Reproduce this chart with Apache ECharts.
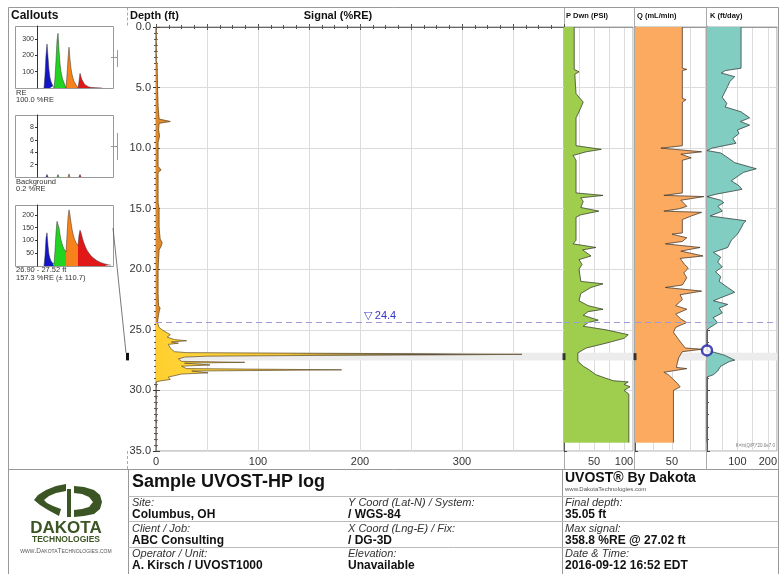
<!DOCTYPE html>
<html>
<head>
<meta charset="utf-8">
<title>Sample UVOST-HP log</title>
<script src="https://cdn.jsdelivr.net/npm/echarts@6/dist/echarts.min.js"></script>
<style>
  html, body { margin: 0; padding: 0; background: #fff; }
  #log { width: 780px; height: 574px; }
</style>
</head>
<body>
<div id="log"></div>
<script>
const FONT = "'Liberation Sans', Arial, Helvetica, sans-serif";

// ---- UVOST signal (%RE) by depth (ft) ----
const sigDepth = [0, 2.8, 3.0, 5.0, 6.5, 7.6, 7.8, 7.95, 8.5, 9.0, 9.5, 11.5, 11.8, 12.0, 14.5,
  15.0, 16.5, 17.5, 17.8, 18.1, 18.4, 20.0, 22.0, 23.0, 23.2, 23.5, 24.0, 24.4, 24.8, 25.0,
  25.2, 25.4, 25.6, 25.8, 25.9, 26.0, 26.1, 26.2, 26.5, 26.8, 26.88, 26.92, 26.96, 26.99, 27.02,
  27.05, 27.08, 27.12, 27.17, 27.25, 27.4, 27.6, 27.68, 27.75, 27.9, 28.0, 28.2, 28.3, 28.4, 28.55,
  28.65, 28.9, 29.1, 29.2, 29.3, 35.0];
const sigValue = [0, 0, 1, 1.5, 2, 3, 14, 3, 2.5, 3.5, 2, 2, 5, 2, 2,
  3, 3, 4, 6, 5, 3, 2, 2, 2.5, 4, 3, 2, 1.5, 3, 6,
  10, 14, 11, 18, 30, 15, 22, 12, 14, 18, 30, 120, 230, 300, 358.8,
  310, 240, 140, 50, 28, 22, 25, 87, 28, 53, 25, 30, 182, 35, 51,
  25, 12, 14, 5, 0, 0];
const sigZoneTop = 24.4;   // yellow (LNAPL) response starts here
const sigTicks = [0, 100, 200, 300];

// ---- HPT downhole pressure (PSI) ----
const pDepth = [0, 3.5, 3.7, 3.9, 5.5, 6.2, 7.0, 7.5, 9.8, 10.1, 10.3, 10.6, 11.0, 13.7, 13.9,
  14.1, 14.4, 14.9, 15.2, 15.5, 15.7, 17.6, 17.9, 18.2, 18.4, 18.9, 19.2, 19.6, 20.0, 21.0,
  21.2, 21.5, 22.0, 22.6, 23.0, 23.3, 23.5, 23.8, 24.2, 24.4, 24.7, 25.0, 25.4, 25.7, 26.1,
  26.5, 26.9, 27.6, 28.0, 28.3, 28.7, 29.0, 29.2, 29.3, 29.5, 29.7, 30.0, 30.3, 34.3];
const pValue = [17, 17, 25, 18, 20, 32, 25, 20, 20, 62, 37, 15, 20, 20, 65,
  28, 32, 28, 58, 28, 20, 20, 15, 53, 31, 45, 25, 30, 25, 28,
  65, 45, 28, 25, 40, 65, 40, 32, 57, 40, 32, 70, 107, 100, 70,
  37, 23, 23, 32, 42, 53, 70, 82, 107, 100, 110, 100, 108, 108];
const pTicks = [50, 100];

// ---- HPT flow (mL/min) ----
const qDepth = [0, 3.4, 3.5, 3.6, 5.9, 6.0, 6.2, 9.8, 10.0, 10.3, 10.5, 10.8, 11.0, 13.7, 13.9,
  14.0, 14.3, 14.8, 15.0, 15.2, 15.3, 15.6, 15.9, 17.0, 17.1, 17.4, 17.7, 17.9, 18.2, 18.5,
  18.9, 19.1, 19.6, 19.9, 20.3, 20.7, 21.3, 21.5, 21.8, 22.1, 22.5, 23.0, 23.3, 23.7, 24.1,
  24.4, 24.6, 24.8, 25.2, 25.8, 26.2, 26.5, 26.6, 26.8, 27.3, 27.8, 28.1, 28.2, 28.5, 28.7,
  29.1, 29.4, 29.7, 30.0, 30.3, 34.3];
const qValue = [64, 64, 70, 64, 64, 69, 64, 64, 35, 90, 62, 76, 64, 64, 39,
  93, 62, 70, 60, 39, 90, 76, 64, 64, 50, 70, 64, 41, 88, 62,
  92, 61, 67, 72, 66, 70, 64, 41, 90, 61, 64, 55, 70, 55, 62,
  70, 62, 55, 52, 59, 64, 68, 90, 64, 59, 57, 56, 70, 39, 45,
  52, 57, 61, 52, 52, 52];
const qTicks = [50];

// ---- Estimated hydraulic conductivity (ft/day) ----
const kDepth = [0, 3.4, 3.6, 3.8, 4.1, 4.5, 4.9, 5.3, 5.8, 6.3, 6.6, 7.0, 7.5, 7.8, 8.1,
  8.5, 8.8, 9.2, 9.6, 10.0, 10.2, 10.4, 10.8, 11.2, 11.7, 12.0, 12.3, 12.7, 13.1, 13.4,
  13.8, 14.0, 14.3, 14.5, 14.8, 15.2, 15.6, 16.0, 16.2, 16.6, 17.1, 17.6, 18.2, 18.6, 19.0,
  19.4, 19.8, 20.2, 20.6, 21.0, 21.5, 21.9, 22.3, 22.6, 22.9, 23.2, 23.6, 24.0, 24.4, 24.8,
  25.0, 26.7, 26.9, 27.1, 27.5, 27.6, 28.0, 28.4, 28.7, 28.9, 34.3];
const kValue = [112, 112, 60, 47, 91, 75, 68, 60, 50, 65, 60, 112, 140, 110, 140,
  100, 105, 85, 95, 16, 0, 45, 69, 91, 162, 120, 102, 80, 105, 115,
  30, 0, 45, 55, 36, 50, 10, 128, 120, 112, 100, 80, 68, 21, 45,
  35, 50, 28, 45, 40, 68, 91, 50, 21, 68, 40, 50, 20, 35, 10,
  0, 0, 30, 58, 91, 75, 45, 35, 21, 0, 0];
const kTicks = [100, 200];
const kMarkerDepth = 26.7;

// ---- log annotations ----
const waterLevel = 24.4;
const calloutTop = 26.90;
const calloutBottom = 27.52;

// ---- callout waveforms: [time bin, amplitude] per channel ----
const reBlue = [[7,0],[8,80],[9,200],[10,270],[11,190],[12,110],[13,65],[14,40],[15,25],[16,12],[17,0]];
const reGreen = [[17,0],[18,60],[19,170],[20,290],[21,335],[22,230],[23,150],[24,100],[25,70],[26,48],[27,32],[28,20],[29,0]];
const reOrange = [[29,0],[30,80],[31,180],[32,250],[33,175],[34,120],[35,85],[36,60],[37,42],[38,30],[39,20],[40,12],[41,0]];
const reRed = [[41,0],[42,40],[43,90],[44,68],[45,50],[46,38],[47,28],[48,20],[49,15],[50,10],[52,6],[55,3],[60,1],[65,0]];

const bgBlue = [[9,0],[10,0.4],[11,0]];
const bgGreen = [[20,0],[21,0.4],[22,0]];
const bgOrange = [[31,0],[32,0.5],[33,0]];
const bgRed = [[42,0],[43,0.4],[44,0]];

const c3Blue = [[7,0],[8,40],[9,110],[10,130],[11,80],[12,45],[13,30],[14,20],[15,15],[16,10],[17,8]];
const c3Green = [[17,8],[18,60],[19,130],[20,175],[21,180],[22,150],[23,122],[24,102],[25,88],[26,76],[27,67],[28,60],[29,55]];
const c3Orange = [[29,55],[30,120],[31,190],[32,220],[33,200],[34,170],[35,145],[36,126],[37,112],[38,101],[39,92],[40,85],[41,80]];
const c3Red = [[41,80],[42,120],[43,140],[44,130],[45,115],[46,101],[47,89],[48,79],[49,70],[50,62],[52,50],[54,40],[56,32],[58,26],[60,21],[62,17],[64,13],[66,10],[68,8],[70,6],[72,4],[74,3]];

const CH_COLORS = ['#1414c8', '#22d422', '#f7821b', '#e01818'];

// axis indices (x and y share the same index per panel)
const AX = { main: 0, p: 2, q: 3, k: 4, c1: 5, c2: 6, c3: 7 };

// ----------------------------------------------------------------------
const chart = echarts.init(document.getElementById('log'), null, { renderer: 'canvas', width: 780, height: 574 });

const profile = (depths, values) => depths.map((d, i) => [values[i], d]);

function polygonPoints(api, depths, values, from, to) {
  const pts = [api.coord([0, depths[from]])];
  for (let i = from; i <= to; i++) pts.push(api.coord([values[i], depths[i]]));
  pts.push(api.coord([0, depths[to]]));
  return pts;
}

function fillSeries(a, depths, values, color) {
  return {
    type: 'custom', xAxisIndex: a, yAxisIndex: a, silent: true, clip: true, z: 3,
    data: profile(depths, values),
    renderItem: (params, api) => {
      if (params.dataIndex !== 0) return null;
      return { type: 'polygon', shape: { points: polygonPoints(api, depths, values, 0, depths.length - 1) },
        style: { fill: color, stroke: color, lineWidth: 0.4 } };
    }
  };
}

function outlineSeries(a, depths, values, color, withLabel) {
  return {
    type: 'line', xAxisIndex: a, yAxisIndex: a, silent: true, z: 4,
    showSymbol: false, symbol: 'none', clip: true,
    lineStyle: { color: color, width: 0.7 },
    data: profile(depths, values),
    markLine: {
      silent: true, symbol: 'none', animation: false,
      lineStyle: { color: '#9c9cd8', type: [6, 4], width: 1.2 },
      label: withLabel ? {
        show: true, position: 'insideMiddleTop', distance: 1, padding: [0, 0, 0, 40],
        formatter: '\u25BD ' + waterLevel.toFixed(1),
        color: '#3535c8', fontSize: 11, fontFamily: FONT
      } : { show: false },
      data: [{ yAxis: waterLevel }]
    }
  };
}

function bandSeries(a) {
  return {
    type: 'custom', xAxisIndex: a, yAxisIndex: a, silent: true, z: 1,
    data: [[calloutTop, calloutBottom]],
    renderItem: (params, api) => {
      const cs = params.coordSys;
      const y1 = api.coord([0, api.value(0)])[1];
      const y2 = api.coord([0, api.value(1)])[1];
      return { type: 'rect', shape: { x: cs.x, y: y1, width: cs.width, height: y2 - y1 },
        style: { fill: '#ececec' } };
    }
  };
}

function waveSeries(a, data, color) {
  return {
    type: 'line', xAxisIndex: a, yAxisIndex: a, silent: true, z: 3,
    showSymbol: false, symbol: 'none', data: data,
    lineStyle: { color: '#333', width: 0.5 },
    areaStyle: { color: color, opacity: 1 }
  };
}

const depthAxis = (grid, extra) => Object.assign({
  gridIndex: grid, type: 'value', inverse: true, min: 0, max: 35, interval: 5,
  axisLine: { show: true, lineStyle: { color: '#555', width: 1 } },
  axisTick: { show: true, inside: true, length: 3, lineStyle: { color: '#444' } },
  minorTick: { show: true, splitNumber: 5, length: 2, lineStyle: { color: '#555' } },
  axisLabel: { show: false },
  splitLine: { show: true, lineStyle: { color: '#dcdcdc' } }
}, extra || {});

const valueAxis = (grid, max, interval, ticks, extra) => Object.assign({
  gridIndex: grid, type: 'value', min: 0, max: max, interval: interval, position: 'bottom',
  axisLine: { show: true, lineStyle: { color: '#999' } },
  axisTick: { show: false },
  axisLabel: {
    show: true, fontSize: 11, color: '#333', fontFamily: FONT, margin: 5,
    showMaxLabel: false, formatter: v => ticks.includes(v) ? String(v) : ''
  },
  splitLine: { show: true, lineStyle: { color: '#dcdcdc' } }
}, extra || {});

const calloutYAxis = (grid, max, interval) => ({
  gridIndex: grid, type: 'value', min: 0, max: max, interval: interval,
  axisLine: { show: true, lineStyle: { color: '#333' } },
  axisTick: { show: true, length: 2, lineStyle: { color: '#333' } },
  axisLabel: { fontSize: 7, color: '#333', fontFamily: FONT, margin: 3, showMinLabel: false, showMaxLabel: false },
  splitLine: { show: false }
});
const calloutXAxis = grid => ({ gridIndex: grid, type: 'value', min: 0, max: 76, show: false });

// signal fill: weak orange response above the yellow zone, gradient-shaded spikes below
const splitIdx = sigDepth.indexOf(sigZoneTop);
const signalFill = {
  type: 'custom', xAxisIndex: AX.main, yAxisIndex: AX.main, silent: true, clip: true, z: 3,
  data: profile(sigDepth, sigValue),
  renderItem: (params, api) => {
    if (params.dataIndex !== 0) return null;
    const x0 = api.coord([0, 0])[0];
    const x1 = api.coord([400, 0])[0];
    const grad = {
      type: 'linear', x: x0, y: 0, x2: x1, y2: 0, global: true,
      colorStops: [
        { offset: 0, color: '#ffcf2e' },
        { offset: 0.10, color: '#ffd43a' },
        { offset: 0.32, color: '#f3c437' },
        { offset: 0.40, color: '#c8a640' },
        { offset: 0.55, color: '#8d7c48' },
        { offset: 0.68, color: '#4c4a46' },
        { offset: 0.78, color: '#8a8a8a' },
        { offset: 0.92, color: '#cfcfcf' }
      ]
    };
    return { type: 'group', children: [
      { type: 'polygon', shape: { points: polygonPoints(api, sigDepth, sigValue, 0, splitIdx) },
        style: { fill: '#e08a2e', stroke: '#e08a2e', lineWidth: 0.4 } },
      { type: 'polygon', shape: { points: polygonPoints(api, sigDepth, sigValue, splitIdx, sigDepth.length - 1) },
        style: { fill: grad } }
    ] };
  }
};

const calloutMid = (calloutTop + calloutBottom) / 2;
const barSeries = a => ({
  type: 'scatter', xAxisIndex: a, yAxisIndex: a, silent: true, z: 6, clip: false,
  symbol: 'rect', symbolSize: [3, 7], itemStyle: { color: '#111' },
  data: [[0, calloutMid]]
});

const option = {
  animation: false,
  backgroundColor: '#fff',
  textStyle: { fontFamily: FONT },
  grid: [
    { left: 156, top: 27, width: 408, height: 424, show: true, borderColor: '#999', borderWidth: 1 },
    { left: 564, top: 27, width: 69, height: 424, show: true, borderColor: '#aaa', borderWidth: 1 },
    { left: 635, top: 27, width: 71, height: 424, show: true, borderColor: '#aaa', borderWidth: 1 },
    { left: 707, top: 27, width: 71, height: 424, show: true, borderColor: '#aaa', borderWidth: 1 },
    { left: 37, top: 26, width: 76, height: 62 },
    { left: 37, top: 115, width: 76, height: 62 },
    { left: 37, top: 205, width: 76, height: 61 }
  ],
  xAxis: [
    valueAxis(0, 400, 50, sigTicks, {
      axisTick: { show: true, inside: true, length: 3, lineStyle: { color: '#555' } },
      minorTick: { show: true, splitNumber: 4, length: 2, lineStyle: { color: '#555' } }
    }),
    valueAxis(0, 400, 50, [], {
      position: 'top',
      axisLine: { show: true, lineStyle: { color: '#666' } },
      axisTick: { show: true, inside: true, length: 3, lineStyle: { color: '#555' } },
      minorTick: { show: true, splitNumber: 4, length: 2, lineStyle: { color: '#555' } },
      axisLabel: { show: false }, splitLine: { show: false }
    }),
    valueAxis(1, 115, 25, pTicks),
    valueAxis(2, 96, 25, qTicks),
    valueAxis(3, 230, 50, kTicks),
    calloutXAxis(4), calloutXAxis(5), calloutXAxis(6)
  ],
  yAxis: [
    depthAxis(0, {
      axisLine: { show: true, lineStyle: { color: '#333', width: 1 } },
      axisTick: { show: true, inside: false, length: 3, lineStyle: { color: '#333' } },
      minorTick: { show: true, splitNumber: 10, length: 2, lineStyle: { color: '#555' } },
      axisLabel: { show: true, formatter: v => v.toFixed(1), fontSize: 11, color: '#333', fontFamily: FONT, margin: 5 }
    }),
    depthAxis(0, {
      position: 'left', offset: 29,
      axisLine: { show: true, lineStyle: { color: '#aaa', type: 'dashed' } },
      axisTick: { show: true, inside: true, length: 4, lineStyle: { color: '#444' } },
      minorTick: { show: true, splitNumber: 10, length: 2, lineStyle: { color: '#777' } },
      splitLine: { show: false }
    }),
    depthAxis(1), depthAxis(2), depthAxis(3),
    calloutYAxis(4, 380, 100), calloutYAxis(5, 10, 2), calloutYAxis(6, 239, 50)
  ],
  series: [
    bandSeries(AX.main), bandSeries(AX.p), bandSeries(AX.q), bandSeries(AX.k),
    signalFill,
    outlineSeries(AX.main, sigDepth, sigValue, '#5e4a26', true),
    fillSeries(AX.p, pDepth, pValue, '#9fce4e'),
    outlineSeries(AX.p, pDepth, pValue, '#333', false),
    fillSeries(AX.q, qDepth, qValue, '#fbaa60'),
    outlineSeries(AX.q, qDepth, qValue, '#333', false),
    fillSeries(AX.k, kDepth, kValue, '#82cdc2'),
    outlineSeries(AX.k, kDepth, kValue, '#333', false),
    {
      type: 'scatter', xAxisIndex: AX.k, yAxisIndex: AX.k, silent: true, z: 6, clip: false,
      symbol: 'circle', symbolSize: 10,
      itemStyle: { color: '#fff', borderColor: '#1c1ca8', borderWidth: 2.5 },
      data: [[0, kMarkerDepth]]
    },
    barSeries(AX.p), barSeries(AX.q),
    waveSeries(AX.c1, reBlue, CH_COLORS[0]), waveSeries(AX.c1, reGreen, CH_COLORS[1]),
    waveSeries(AX.c1, reOrange, CH_COLORS[2]), waveSeries(AX.c1, reRed, CH_COLORS[3]),
    waveSeries(AX.c2, bgBlue, CH_COLORS[0]), waveSeries(AX.c2, bgGreen, CH_COLORS[1]),
    waveSeries(AX.c2, bgOrange, CH_COLORS[2]), waveSeries(AX.c2, bgRed, CH_COLORS[3]),
    waveSeries(AX.c3, c3Blue, CH_COLORS[0]), waveSeries(AX.c3, c3Green, CH_COLORS[1]),
    waveSeries(AX.c3, c3Orange, CH_COLORS[2]), waveSeries(AX.c3, c3Red, CH_COLORS[3])
  ]
};
chart.setOption(option);

// ---- frame, header, callout boxes and title block ----
const G = [];
const line = (x1, y1, x2, y2, color, width, dash, z) => G.push({
  type: 'line', z: z || 0, silent: true,
  shape: { x1, y1, x2, y2 },
  style: { stroke: color || '#999', lineWidth: width || 1, lineDash: dash || null }
});
const text = (x, y, str, font, fill, align) => G.push({
  type: 'text', z: 20, silent: true, x, y,
  style: { text: str, font: font, fill: fill || '#222', textAlign: align || 'left', textVerticalAlign: 'middle' }
});
const rect = (x, y, w, h, stroke) => G.push({
  type: 'rect', z: 0, silent: true, shape: { x, y, width: w, height: h },
  style: { fill: null, stroke: stroke || '#999', lineWidth: 1 }
});
const poly = (pts, fill) => G.push({
  type: 'polygon', z: 20, silent: true, shape: { points: pts }, style: { fill: fill }
});

// outer frame and track dividers
line(8.5, 7.5, 778.5, 7.5, '#999');
line(8.5, 7.5, 8.5, 574, '#999');
line(778.5, 7.5, 778.5, 574, '#999');
line(127.5, 7.5, 127.5, 27, '#aaa', 1, [3, 2]);
line(127.5, 451, 127.5, 469, '#aaa', 1, [3, 2]);
[564.5, 634.5, 706.5].forEach(x => line(x, 7.5, x, 469.5, '#aaa'));

// header
text(11, 16, 'Callouts', 'bold 12px ' + FONT, '#111');
text(130, 16, 'Depth (ft)', 'bold 11px ' + FONT, '#111');
text(338, 16, 'Signal (%RE)', 'bold 11px ' + FONT, '#111', 'center');
text(566, 16, 'P Dwn (PSI)', 'bold 7.5px ' + FONT, '#111');
text(637, 16, 'Q (mL/min)', 'bold 7.5px ' + FONT, '#111');
text(710, 16, 'K (ft/day)', 'bold 7.5px ' + FONT, '#111');

// callout boxes
rect(15.5, 26.5, 98, 62);
rect(15.5, 115.5, 98, 62);
rect(15.5, 205.5, 98, 61);
const cfont = '7.5px ' + FONT;
text(16, 93, 'RE', cfont, '#333');
text(16, 100, '100.0 %RE', cfont, '#333');
text(16, 182, 'Background', cfont, '#333');
text(16, 189, '0.2 %RE', cfont, '#333');
text(16, 270, calloutTop.toFixed(2) + ' - ' + calloutBottom.toFixed(2) + ' ft', cfont, '#333');
text(16, 278, '157.3 %RE (\u00B1 110.7)', cfont, '#333');
line(117.5, 50, 117.5, 67, '#999');
line(111, 57.5, 117.5, 57.5, '#999');
line(117.5, 133, 117.5, 160, '#999');
line(111, 146.5, 117.5, 146.5, '#999');

// callout depth marker on the depth track
const yTop = chart.convertToPixel({ yAxisIndex: 0 }, calloutTop);
const yBot = chart.convertToPixel({ yAxisIndex: 0 }, calloutBottom);
G.push({ type: 'rect', z: 21, silent: true, shape: { x: 126, y: yTop, width: 3, height: yBot - yTop }, style: { fill: '#111' } });
line(113, 228, 126, yTop, '#555', 0.8, null, 21);
text(775, 446, 'K=ln(Q/P)*20.0e7.0', '4.5px ' + FONT, '#777', 'right');

// title block
line(8.5, 469.5, 778.5, 469.5, '#999');
line(128.5, 469.5, 128.5, 574, '#999');
line(562.5, 469.5, 562.5, 574, '#999');
[496.5, 521.5, 547.5].forEach(y => line(128.5, y, 778.5, y, '#bbb'));

text(132, 482, 'Sample UVOST-HP log', 'bold 18px ' + FONT, '#111');
text(565, 478, 'UVOST\u00AE By Dakota', 'bold 14px ' + FONT, '#111');
text(565, 489, 'www.DakotaTechnologies.com', '6px ' + FONT, '#555');

const lab = 'italic 11px ' + FONT, val = 'bold 12px ' + FONT;
const rows = [
  [['Site:', 'Columbus, OH'], ['Y Coord (Lat-N) / System:', '/ WGS-84'], ['Final depth:', '35.05 ft']],
  [['Client / Job:', 'ABC Consulting'], ['X Coord (Lng-E) / Fix:', '/ DG-3D'], ['Max signal:', '358.8 %RE @ 27.02 ft']],
  [['Operator / Unit:', 'A. Kirsch / UVOST1000'], ['Elevation:', 'Unavailable'], ['Date & Time:', '2016-09-12 16:52 EDT']]
];
const colX = [132, 348, 565];
rows.forEach((row, r) => {
  const y0 = 503 + r * 25.5;
  row.forEach((cell, c) => {
    text(colX[c], y0, cell[0], lab, '#333');
    text(colX[c], y0 + 12, cell[1], val, '#111');
  });
});

// Dakota logo
const LOGO = '#3b5524';
poly([[66,484],[56,486],[46,490],[38,495],[34,500],[40,505],[48,510],[59,516],[61,509],[53,506],[47,503],[44,500],[49,496],[56,493],[66,491]], LOGO);
G.push({ type: 'rect', z: 20, silent: true, shape: { x: 67, y: 489, width: 4, height: 28 }, style: { fill: LOGO } });
poly([[74,486],[84,487],[94,490],[100,495],[102,502],[100,509],[94,514],[84,516],[74,517],[74,510],[82,509],[89,507],[93,502],[89,497],[82,494],[74,493]], LOGO);
text(66, 528, 'DAKOTA', 'bold 17px ' + FONT, LOGO, 'center');
text(66, 540, 'TECHNOLOGIES', 'bold 8.5px ' + FONT, LOGO, 'center');
text(66, 551, 'www.DakotaTechnologies.com', 'small-caps 6.5px ' + FONT, '#555', 'center');

chart.setOption({ graphic: [{ elements: G }] });
</script>
</body>
</html>
